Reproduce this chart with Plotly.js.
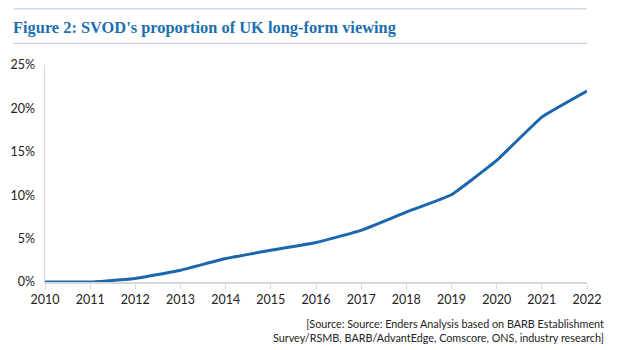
<!DOCTYPE html>
<html><head><meta charset="utf-8">
<script src="https://cdn.plot.ly/plotly-3.0.1.min.js"></script>
<style>html,body{margin:0;padding:0;background:#fff;}#chart{width:629px;height:350px;}</style>
</head><body><div id="chart"></div>
<script>
const years = ['2010','2011','2012','2013','2014','2015','2016','2017','2018','2019','2020','2021','2022'];
const svodShare = [0, 0, 0.4, 1.35, 2.7, 3.65, 4.55, 5.95, 8.05, 10.05, 14.0, 19.0, 22.0];
const yTickVals = [0, 5, 10, 15, 20, 25];
const yTickText = ['0%', '5%', '10%', '15%', '20%', '25%'];
const titleText = "Figure 2: SVOD's proportion of UK long-form viewing";
const sourceText = "[Source: Source: Enders Analysis based on BARB Establishment<br>Survey/RSMB, BARB/AdvantEdge, Comscore, ONS, industry research]";

const trace = {
  x: years, y: svodShare, type: 'scatter', mode: 'lines',
  line: {color: '#1a67ae', width: 3, shape: 'spline', smoothing: 0.3},
  hoverinfo: 'skip'
};
const layout = {
  width: 629, height: 350,
  margin: {l: 45, r: 42, t: 65, b: 68},
  paper_bgcolor: '#fff', plot_bgcolor: '#fff',
  showlegend: false,
  font: {family: 'Lato, "Open Sans", sans-serif', size: 12.5, color: '#222'},
  xaxis: {
    type: 'category', range: [0, 12], showgrid: false, zeroline: false,
    showline: true, linecolor: '#d6d9e0', linewidth: 1.5,
    ticks: 'outside', ticklen: 5, tickcolor: '#d6d9e0', tickwidth: 1,
    tickfont: {size: 12.5, color: '#222'}, fixedrange: true
  },
  yaxis: {
    range: [0, 25], tickvals: yTickVals, ticktext: yTickText,
    showgrid: false, zeroline: false,
    showline: true, linecolor: '#d6d9e0', linewidth: 1.5,
    ticks: '', ticklabelstandoff: 6,
    tickfont: {size: 12.5, color: '#222'}, fixedrange: true
  },
  shapes: [
    {type: 'line', xref: 'paper', yref: 'paper', x0: -0.058, x1: 1.0, y0: 1.259, y1: 1.259, line: {color: '#c9d3e0', width: 1.2}},
    {type: 'line', xref: 'paper', yref: 'paper', x0: -0.058, x1: 1.0, y0: 1.1, y1: 1.1, line: {color: '#c9d3e0', width: 1.2}}
  ],
  annotations: [
    {xref: 'paper', yref: 'paper', x: -0.063, y: 1.172, xanchor: 'left', yanchor: 'middle',
     text: '<b>' + titleText + '</b>', showarrow: false,
     font: {family: '"Liberation Serif", "DejaVu Serif", serif', size: 16.4, color: '#1c6fae'}},
    {xref: 'paper', yref: 'paper', x: 1.035, y: -0.15, xanchor: 'right', yanchor: 'top', align: 'right',
     text: sourceText, showarrow: false,
     font: {family: 'Lato, sans-serif', size: 10.8, color: '#222'}}
  ]
};
Plotly.newPlot('chart', [trace], layout, {displayModeBar: false, staticPlot: true});
</script></body></html>
